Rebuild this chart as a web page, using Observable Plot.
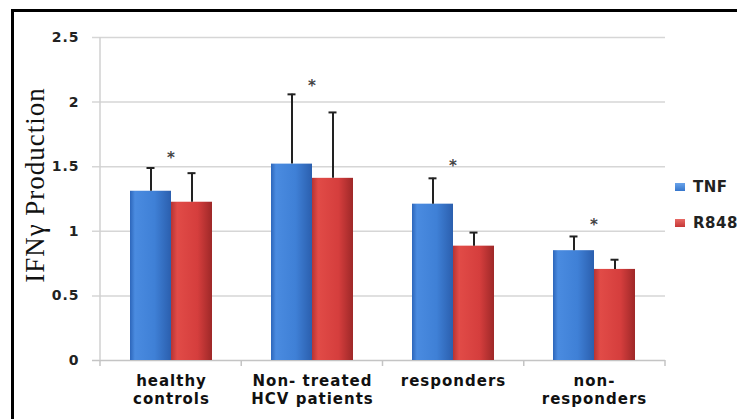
<!DOCTYPE html>
<html>
<head>
<meta charset="utf-8">
<script src="https://cdn.jsdelivr.net/npm/d3@7"></script>
<script src="https://cdn.jsdelivr.net/npm/@observablehq/plot@0.6"></script>
<style>
  html, body { margin: 0; padding: 0; background: #fff; }
  #wrap { position: relative; width: 737px; height: 419px; overflow: hidden; background: #fff; }
  #border { position: absolute; left: 11px; top: 9px; right: -5px; bottom: -5px; border-top: 3px solid #000; border-left: 3px solid #000; }
  #chart { position: absolute; left: 0; top: 0; }
  #legend { position: absolute; left: 675px; top: 178px; font-family: "DejaVu Sans", sans-serif; font-weight: bold; font-size: 15px; color: #222; letter-spacing: 0.5px; }
  .item { display: flex; align-items: center; height: 18px; margin-bottom: 18px; }
  .sw { width: 10px; height: 8px; margin-right: 8px; }
</style>
</head>
<body>
<div id="wrap">
  <div id="border"></div>
  <div id="chart"></div>
  <div id="legend"></div>
</div>
<script>
const categories = ["healthy controls", "Non- treated HCV patients", "responders", "non- responders"];
const categoryLabels = ["healthy\ncontrols", "Non- treated\nHCV patients", "responders", "non-\nresponders"];
const series = ["TNF", "R848"];
const tnfMean = [1.31, 1.52, 1.21, 0.85];
const tnfUpper = [1.49, 2.06, 1.41, 0.96];
const r848Mean = [1.225, 1.41, 0.885, 0.705];
const r848Upper = [1.45, 1.92, 0.99, 0.78];
const starY = [1.59, 2.15, 1.53, 1.07];
const starText = ["*", "*", "*", "*"];
const yTicks = [0, 0.5, 1, 1.5, 2, 2.5];
const yTickLabels = ["0", "0.5", "1", "1.5", "2", "2.5"];
const yLabel = "IFNγ Production";

const tnfRows = categories.map((c, i) => ({category: c, mean: tnfMean[i], upper: tnfUpper[i]}));
const r848Rows = categories.map((c, i) => ({category: c, mean: r848Mean[i], upper: r848Upper[i]}));
const starRows = categories.map((c, i) => ({category: c, y: starY[i], text: starText[i]}));
const labelRows = categories.map((c, i) => ({category: c, text: categoryLabels[i]}));

const half = 41, capIn = 16.5;

const svg = Plot.plot({
  width: 737,
  height: 419,
  marginLeft: 100,
  marginRight: 72,
  marginTop: 37,
  marginBottom: 59,
  style: {fontFamily: "'DejaVu Sans', sans-serif", fontWeight: "bold", fontSize: "14px", color: "#222", background: "transparent", overflow: "visible", letterSpacing: "1px"},
  x: {domain: categories, paddingInner: 0.42, paddingOuter: 0.21, axis: null},
  y: {domain: [0, 2.5], ticks: yTicks, tickFormat: d => yTickLabels[yTicks.indexOf(d)], tickSize: 0, tickPadding: 21, label: null},
  marks: [
    Plot.ruleY(yTicks.slice(1), {y: d => d, stroke: "#d6d6d6", strokeWidth: 1.5, insetLeft: -8}),
    Plot.ruleY([0], {stroke: "#c4c4c4", strokeWidth: 1.5, insetLeft: -8}),
    Plot.barY(tnfRows, {x: "category", y: "mean", fill: "url(#gTNF)", insetRight: half}),
    Plot.barY(r848Rows, {x: "category", y: "mean", fill: "url(#gR848)", insetLeft: half}),
    Plot.ruleX(tnfRows, {x: "category", y1: "mean", y2: "upper", dx: -half / 2, stroke: "#222", strokeWidth: 2}),
    Plot.ruleX(r848Rows, {x: "category", y1: "mean", y2: "upper", dx: half / 2, stroke: "#222", strokeWidth: 2}),
    Plot.tickY(tnfRows, {x: "category", y: "upper", insetLeft: capIn, insetRight: half + capIn, stroke: "#222", strokeWidth: 2}),
    Plot.tickY(r848Rows, {x: "category", y: "upper", insetLeft: half + capIn, insetRight: capIn, stroke: "#222", strokeWidth: 2}),
    Plot.text(starRows, {x: "category", y: "y", text: "text", fontSize: 15, fill: "#444", dy: 3}),
    Plot.text(labelRows, {x: "category", text: "text", frameAnchor: "bottom", lineAnchor: "top", dy: 13, fontSize: 15, lineHeight: 1.2, fill: "#111", letterSpacing: "0.6px"}),
    Plot.text([yLabel], {frameAnchor: "left", textAnchor: "middle", lineAnchor: "middle", rotate: -90, dx: -65, dy: -14, fontFamily: "'Liberation Serif', serif", fontWeight: "normal", fontSize: 27, fill: "#111", letterSpacing: "0px"})
  ]
});

// gradients for the bars
const defs = d3.select(svg).insert("defs", ":first-child");
function grad(id, stops) {
  const g = defs.append("linearGradient").attr("id", id).attr("x1", "0").attr("x2", "1").attr("y1", "0").attr("y2", "0");
  stops.forEach(([o, c]) => g.append("stop").attr("offset", o).attr("stop-color", c));
}
grad("gTNF", [["0", "#2d66ba"], ["0.12", "#4a8be0"], ["0.6", "#3f80d6"], ["1", "#2b5fae"]]);
grad("gR848", [["0", "#b53434"], ["0.15", "#e14b47"], ["0.65", "#d53e3d"], ["1", "#9e2828"]]);

// axis line and category ticks from the plot's own scales
const xs = svg.scale("x"), ys = svg.scale("y");
const y0 = ys.apply(0), yTop = ys.apply(2.5);
const x0 = xs.range[0], x1 = xs.range[1];
const step = (x1 - x0) / categories.length;
const g = d3.select(svg).append("g").attr("stroke", "#c4c4c4").attr("stroke-width", 1.5);
g.append("line").attr("x1", x0).attr("x2", x0).attr("y1", y0).attr("y2", yTop).attr("stroke", "#d0d0d0");
for (let i = 0; i <= categories.length; i++) {
  const x = x0 + i * step;
  g.append("line").attr("x1", x).attr("x2", x).attr("y1", y0).attr("y2", y0 + 6);
}

document.getElementById("chart").appendChild(svg);

// legend
const legend = document.getElementById("legend");
const swatchBg = {TNF: "linear-gradient(#6aa3ea, #3576cc)", R848: "linear-gradient(#e86a66, #c53636)"};
series.forEach(s => {
  const it = document.createElement("div");
  it.className = "item";
  const sw = document.createElement("div");
  sw.className = "sw";
  sw.style.background = swatchBg[s];
  it.appendChild(sw);
  const t = document.createElement("span");
  t.textContent = s;
  it.appendChild(t);
  legend.appendChild(it);
});
</script>
</body>
</html>
